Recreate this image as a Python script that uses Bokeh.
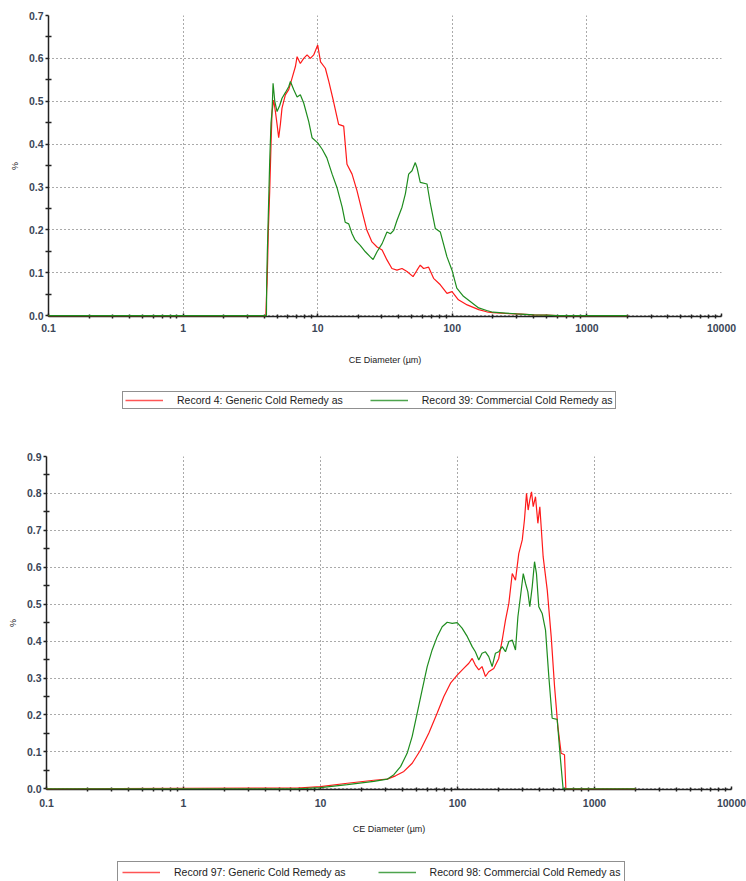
from bokeh.plotting import figure
from bokeh.models import FixedTicker, Legend, LegendItem, PrintfTickFormatter, Range1d, CustomJSTickFormatter
from bokeh.layouts import column
from bokeh.embed import file_html
from bokeh.resources import INLINE

# ---------------- data: top chart ----------------
top_red_x = [0.1, 4.12, 4.18, 4.21, 4.30, 4.40, 4.50, 4.58, 4.71, 4.85, 4.99, 5.13, 5.28, 5.43, 5.75, 6.09,
             6.45, 6.83, 7.03, 7.43, 7.87, 8.34, 8.82, 9.34, 10.0, 10.5, 11.4, 12.1, 13.1, 14.3, 15.6,
             16.5, 18.0, 19.6, 21.3, 23.2, 25.3, 27.6, 30.1, 32.7, 35.6, 38.8, 42.3, 46.1, 51.1, 54.7,
             57.8, 61.2, 66.7, 72.6, 81.5, 91.3, 99.5, 111, 129, 157, 180, 200, 250, 300, 400, 500, 600, 2000]
top_red_y = [0.0, 0.0, 0.06, 0.076, 0.20, 0.29, 0.40, 0.476, 0.503, 0.476, 0.446, 0.415, 0.446, 0.484, 0.515, 0.527,
             0.554, 0.581, 0.604, 0.588, 0.600, 0.608, 0.600, 0.608, 0.631, 0.592, 0.577, 0.546, 0.500, 0.446, 0.442,
             0.353, 0.330, 0.291, 0.245, 0.199, 0.172, 0.160, 0.153, 0.130, 0.110, 0.106, 0.110, 0.103, 0.091, 0.106,
             0.118, 0.110, 0.113, 0.087, 0.072, 0.052, 0.056, 0.037, 0.025, 0.014, 0.009, 0.007, 0.005, 0.004, 0.002, 0.001, 0.0, 0.0]

top_green_x = [0.1, 4.16, 4.18, 4.22, 4.30, 4.40, 4.50, 4.58, 4.66, 4.80, 4.99, 5.22, 5.43, 5.75, 6.09, 6.27,
               6.64, 7.03, 7.43, 7.87, 8.57, 9.08, 10.0, 10.8, 11.7, 12.8, 13.9, 15.2, 16.0, 17.0, 18.0,
               19.0, 20.7, 22.6, 24.6, 25.8, 27.6, 30.1, 32.7, 34.7, 36.7, 38.8, 42.3, 44.8, 47.4, 50.2,
               53.1, 54.7, 57.8, 64.9, 68.7, 74.8, 81.5, 91.3, 99.5, 108, 121, 136, 157, 180, 200, 250,
               300, 400, 500, 600, 2000]
top_green_y = [0.0, 0.0, 0.08, 0.14, 0.24, 0.36, 0.45, 0.476, 0.542, 0.500, 0.476, 0.490, 0.507, 0.520, 0.534, 0.546,
               0.527, 0.510, 0.515, 0.496, 0.453, 0.415, 0.403, 0.388, 0.368, 0.330, 0.299, 0.253, 0.218, 0.214, 0.191,
               0.176, 0.164, 0.149, 0.137, 0.131, 0.149, 0.168, 0.195, 0.191, 0.199, 0.222, 0.253, 0.284, 0.330, 0.338,
               0.357, 0.345, 0.311, 0.307, 0.261, 0.203, 0.195, 0.137, 0.106, 0.064, 0.045, 0.033, 0.018, 0.012, 0.008, 0.006,
               0.004, 0.002, 0.001, 0.0, 0.0]

# ---------------- data: bottom chart ----------------
bot_red_x = [0.1, 6.75, 10.0, 15.7, 24.5, 30.7, 35.3, 40.6, 46.7, 53.7, 61.8, 71.1, 79.5, 88.9, 99.5, 111,
             121, 128, 135, 143, 151, 160, 169, 184, 200, 212, 224, 237, 251, 265, 280, 297, 308,
             319, 328, 337, 347, 357, 371, 386, 399, 422, 452, 483, 511, 540, 571, 604, 618, 2000]
bot_red_y = [0.0, 0.002, 0.006, 0.015, 0.023, 0.026, 0.035, 0.047, 0.069, 0.105, 0.151, 0.205, 0.250, 0.286, 0.308, 0.326,
             0.340, 0.353, 0.335, 0.322, 0.331, 0.304, 0.317, 0.326, 0.353, 0.403, 0.457, 0.502, 0.583, 0.565, 0.637, 0.674, 0.728,
             0.800, 0.755, 0.782, 0.804, 0.764, 0.791, 0.719, 0.764, 0.628, 0.538, 0.412, 0.277, 0.169, 0.096, 0.092, 0.0, 0.0]

bot_green_x = [0.1, 6.76, 10.0, 15.7, 24.5, 30.7, 34.3, 38.4, 42.9, 46.7, 50.8, 55.2, 60.1, 65.3, 71.1, 77.3,
               84.1, 91.4, 99.5, 108, 118, 128, 135, 143, 151, 160, 169, 179, 189, 200, 212, 224,
               237, 251, 265, 276, 288, 302, 314, 326, 337, 351, 365, 377, 392, 415, 439, 464,
               491, 534, 565, 590, 2000]
bot_green_y = [0.0, 0.0, 0.003, 0.011, 0.020, 0.026, 0.038, 0.060, 0.096, 0.142, 0.205, 0.268, 0.331, 0.376, 0.412, 0.439,
               0.451, 0.448, 0.450, 0.435, 0.412, 0.385, 0.371, 0.349, 0.367, 0.371, 0.358, 0.331, 0.367, 0.371, 0.385, 0.371,
               0.399, 0.403, 0.376, 0.466, 0.520, 0.583, 0.556, 0.534, 0.493, 0.547, 0.615, 0.583, 0.493, 0.475, 0.430, 0.304,
               0.191, 0.188, 0.078, 0.0, 0.0]

# ---------------- axis / legend text ----------------
x_ticks = [0.1, 1, 10, 100, 1000, 10000]
top_y_ticks = [0.0, 0.1, 0.2, 0.3, 0.4, 0.5, 0.6, 0.7]
bot_y_ticks = [0.0, 0.1, 0.2, 0.3, 0.4, 0.5, 0.6, 0.7, 0.8, 0.9]
x_label = "CE Diameter (\u00b5m)"
y_label = "%"
top_labels = ["Record 4: Generic Cold Remedy as", "Record 39: Commercial Cold Remedy as"]
bot_labels = ["Record 97: Generic Cold Remedy as", "Record 98: Commercial Cold Remedy as"]

RED = "#ff1a1a"
GREEN = "#1e8c1e"
LEG_RED = "#ff5555"
LEG_GREEN = "#4ea44e"
TICK_COLOR = "#3b4657"
FONT = "Liberation Sans"
W = 746

x_minor = [m * 10.0 ** e for e in range(-1, 4) for m in range(2, 10)]


def make_chart(red_x, red_y, green_x, green_y, y_ticks, height,
               b_left, b_right, b_top, b_bottom, xlab_standoff, xtick_standoff):
    ymax = y_ticks[-1]
    p = figure(width=W, height=height, x_axis_type="log",
               x_range=Range1d(0.1, 10000), y_range=Range1d(-0.002, ymax),
               output_backend="svg", toolbar_location=None,
               min_border_left=b_left, min_border_right=b_right,
               min_border_top=b_top, min_border_bottom=b_bottom)
    p.outline_line_color = None
    p.background_fill_color = "white"
    p.border_fill_color = "white"

    r1 = p.line(red_x, red_y, line_color=RED, line_width=1.2)
    r2 = p.line(green_x, green_y, line_color=GREEN, line_width=1.2)
    r1.level = "overlay"
    r2.level = "overlay"

    xt = FixedTicker(ticks=x_ticks, minor_ticks=x_minor)
    y_minor = [round(t + 0.05, 3) for t in y_ticks[:-1]]
    yt = FixedTicker(ticks=y_ticks, minor_ticks=y_minor)

    p.xaxis.ticker = xt
    p.yaxis.ticker = yt
    p.xgrid.ticker = FixedTicker(ticks=x_ticks)
    p.ygrid.ticker = FixedTicker(ticks=y_ticks)
    p.xaxis.formatter = CustomJSTickFormatter(code="return tick.toString();")
    p.yaxis.formatter = PrintfTickFormatter(format="%.1f")

    for g in (p.xgrid, p.ygrid):
        g.grid_line_color = "#555555"
        g.grid_line_dash = "1 3"
        g.grid_line_width = 1

    for ax in (p.xaxis, p.yaxis):
        ax.axis_line_color = "#222222"
        ax.axis_line_width = 1.5
        ax.major_tick_line_color = "#222222"
        ax.minor_tick_line_color = "#222222"
        ax.major_tick_line_width = 1.5
        ax.minor_tick_line_width = 1.5
        ax.major_label_text_font = FONT
        ax.major_label_text_font_style = "bold"
        ax.major_label_text_font_size = "10.5px"
        ax.major_label_text_color = TICK_COLOR
        ax.axis_label_text_font = FONT
        ax.axis_label_text_font_style = "normal"
        ax.axis_label_text_font_size = "9px"
        ax.axis_label_text_color = "#222222"

    p.xaxis.axis_label = x_label
    p.xaxis.major_tick_in = 3
    p.xaxis.major_tick_out = 0
    p.xaxis.minor_tick_in = 2
    p.xaxis.minor_tick_out = 2
    p.xaxis.major_label_standoff = xtick_standoff
    p.xaxis.axis_label_standoff = xlab_standoff

    p.yaxis.axis_label = y_label
    p.yaxis.major_tick_in = 0
    p.yaxis.major_tick_out = 3
    p.yaxis.minor_tick_in = 3
    p.yaxis.minor_tick_out = 3
    p.yaxis.major_label_standoff = 2
    p.yaxis.axis_label_standoff = 6
    return p


def make_legend_strip(labels, height, b_left, b_right, loc, padding, spacing):
    q = figure(width=W, height=height, x_range=Range1d(0, 1), y_range=Range1d(0, 1),
               x_axis_location=None, y_axis_location=None,
               output_backend="svg", toolbar_location=None,
               min_border_left=b_left, min_border_right=b_right,
               min_border_top=0, min_border_bottom=0)
    q.outline_line_color = None
    q.grid.visible = False
    q.background_fill_color = "white"
    q.border_fill_color = "white"
    # sample lines placed outside the visible range: only their legend swatches show
    a = q.line([5, 6], [5, 6], line_color=LEG_RED, line_width=1.6)
    b = q.line([5, 6], [5, 6], line_color=LEG_GREEN, line_width=1.6)
    legend = Legend(items=[LegendItem(label=labels[0], renderers=[a]),
                           LegendItem(label=labels[1], renderers=[b])],
                    orientation="horizontal", location=loc,
                    glyph_width=38, glyph_height=12, label_height=12,
                    label_standoff=14, spacing=spacing, padding=padding, margin=0,
                    label_text_font=FONT, label_text_font_size="10.5px",
                    label_text_color="#222222",
                    border_line_color="#222222", border_line_width=1,
                    background_fill_color="white", background_fill_alpha=1)
    q.add_layout(legend)
    return q


p_top = make_chart(top_red_x, top_red_y, top_green_x, top_green_y, top_y_ticks,
                   height=380, b_left=48, b_right=25, b_top=15, b_bottom=64,
                   xlab_standoff=20, xtick_standoff=5)
leg_top = make_legend_strip(top_labels, height=40, b_left=48, b_right=25,
                            loc=(74, 11), padding=2, spacing=27)
p_bot = make_chart(bot_red_x, bot_red_y, bot_green_x, bot_green_y, bot_y_ticks,
                   height=430, b_left=46, b_right=15, b_top=36, b_bottom=61,
                   xlab_standoff=14, xtick_standoff=7)
leg_bot = make_legend_strip(bot_labels, height=31, b_left=46, b_right=15,
                            loc=(71, -2), padding=4, spacing=32)

layout = column(column(p_top, leg_top, spacing=0), column(p_bot, leg_bot, spacing=0), spacing=0)
open("out.html", "w").write(file_html(layout, INLINE))
